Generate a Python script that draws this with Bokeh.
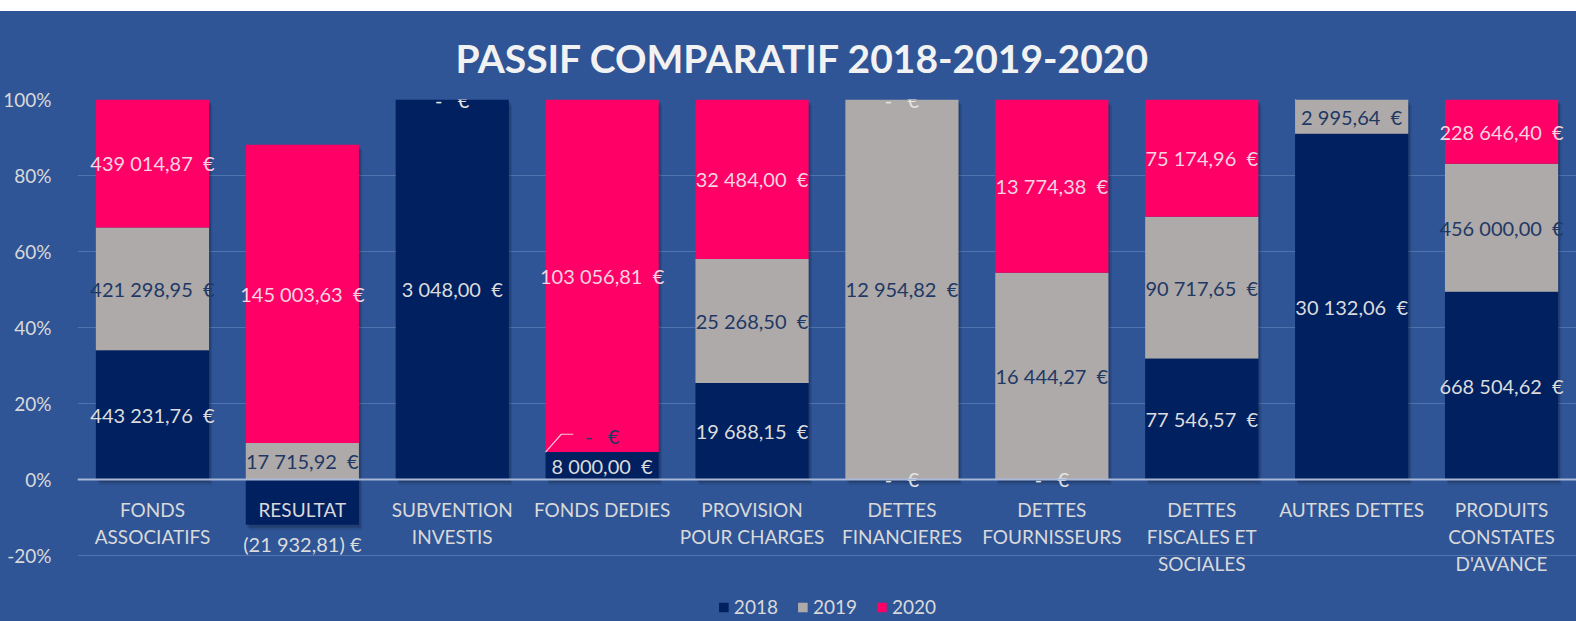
from bokeh.plotting import figure
from bokeh.layouts import column
from bokeh.models import (ColumnDataSource, Range1d, FixedTicker, NumeralTickFormatter,
                          Legend, LegendItem, Span, Spacer)
from bokeh.core.properties import value
from bokeh.embed import file_html
from bokeh.resources import INLINE

# ---------------- data ----------------
categories = ["FONDS ASSOCIATIFS", "RESULTAT", "SUBVENTION INVESTIS", "FONDS DEDIES",
              "PROVISION POUR CHARGES", "DETTES FINANCIERES", "DETTES FOURNISSEURS",
              "DETTES FISCALES ET SOCIALES", "AUTRES DETTES", "PRODUITS CONSTATES D'AVANCE"]
category_lines = [["FONDS", "ASSOCIATIFS"], ["RESULTAT"], ["SUBVENTION", "INVESTIS"],
                  ["FONDS DEDIES"], ["PROVISION", "POUR CHARGES"], ["DETTES", "FINANCIERES"],
                  ["DETTES", "FOURNISSEURS"], ["DETTES", "FISCALES ET", "SOCIALES"],
                  ["AUTRES DETTES"], ["PRODUITS", "CONSTATES", "D'AVANCE"]]
years = ["2018", "2019", "2020"]
v2018 = [443231.76, -21932.81, 3048.00, 8000.00, 19688.15, 0.0, 0.0, 77546.57, 30132.06, 668504.62]
v2019 = [421298.95, 17715.92, 0.0, 0.0, 25268.50, 12954.82, 16444.27, 90717.65, 2995.64, 456000.00]
v2020 = [439014.87, 145003.63, 0.0, 103056.81, 32484.00, 0.0, 13774.38, 75174.96, 0.0, 228646.40]
y_ticks = [-0.2, 0.0, 0.2, 0.4, 0.6, 0.8, 1.0]
title_text = "PASSIF COMPARATIF 2018-2019-2020"

# ---------------- style ----------------
BG = "#2F5597"
FONT = "Lato"
bar_colors = ["#002060", "#AEAAAA", "#FF0066"]
label_colors = ["#DCDCDC", "#1F3864", "#F7D4E1"]
zero_label_colors = ["#E4E4E4", "#1F3864", "#E4E4E4"]
AXIS_TEXT = "#D9D9D9"
BAR_W = 0.755
NB = "\u00a0"


def fmt(v):
    if v == 0:
        return "-" + NB * 3 + "€"
    s = f"{abs(v):,.2f}".replace(",", " ").replace(".", ",")
    return f"({s}){NB}€" if v < 0 else f"{s}{NB}{NB}€"


series = [v2018, v2019, v2020]
n = len(categories)
xs = [i + 0.5 for i in range(n)]
totals = [sum(abs(s[i]) for s in series) for i in range(n)]

p = figure(width=1576, height=610, x_range=Range1d(0, n), y_range=Range1d(-0.3737, 1.0),
           output_backend="svg", toolbar_location=None,
           background_fill_color=BG, border_fill_color=BG, outline_line_color=None,
           min_border_left=77, min_border_right=0, min_border_top=88, min_border_bottom=0)
p.styles = {"background-color": BG}

p.title.text = title_text
p.title.align = "left"
p.title.offset = 378
p.title.text_font = FONT
p.title.text_font_size = "39px"
p.title.text_font_style = "bold"
p.title.text_color = "#F2F2F2"
p.title.standoff = 38

p.xaxis.visible = False
p.xgrid.visible = False
p.yaxis.ticker = FixedTicker(ticks=y_ticks)
p.yaxis.formatter = NumeralTickFormatter(format="0%")
p.yaxis.axis_line_color = None
p.yaxis.major_tick_line_color = None
p.yaxis.minor_tick_line_color = None
p.yaxis.major_label_text_color = AXIS_TEXT
p.yaxis.major_label_text_font = FONT
p.yaxis.major_label_text_font_size = "19px"
p.yaxis.major_label_standoff = 20
p.ygrid.ticker = FixedTicker(ticks=y_ticks)
p.ygrid.grid_line_color = "#5072AD"
p.ygrid.grid_line_width = 1

# stacking (100 % of the sum of absolute values)
pos_cum = [0.0] * n
neg_cum = [0.0] * n
stacks = []
for vals in series:
    bottoms, tops = [], []
    for i in range(n):
        pct = vals[i] / totals[i]
        if pct >= 0:
            b, t = pos_cum[i], pos_cum[i] + pct
            pos_cum[i] = t
        else:
            b, t = neg_cum[i] + pct, neg_cum[i]
            neg_cum[i] = b
        bottoms.append(b)
        tops.append(t)
    stacks.append((bottoms, tops))

# drop shadow
sh_bottom = [min(s[0][i] for s in stacks) for i in range(n)]
sh_top = [max(s[1][i] for s in stacks) for i in range(n)]
for dx, dy, a in [(0.022, 0.014, 0.10), (0.012, 0.008, 0.16)]:
    p.vbar(x=[x + dx for x in xs], bottom=[b - dy for b in sh_bottom],
           top=[t - dy for t in sh_top], width=BAR_W, fill_color="black",
           fill_alpha=a, line_color=None)

renderers = []
for k, yr in enumerate(years):
    src = ColumnDataSource(dict(x=xs, bottom=stacks[k][0], top=stacks[k][1]))
    r = p.vbar(x="x", bottom="bottom", top="top", width=BAR_W, source=src,
               fill_color=bar_colors[k], line_color=None)
    renderers.append(r)

p.add_layout(Span(location=0, dimension="width", line_color="#A8B8D6", line_width=2))

# data labels
lx, ly, lt, lc, lyo = [], [], [], [], []
leader_xs, leader_ys = [], []
for k in range(len(years)):
    vals = series[k]
    bottoms, tops = stacks[k]
    for i in range(n):
        v = vals[i]
        if v > 0:
            y, yo, c = (bottoms[i] + tops[i]) / 2, 0, label_colors[k]
        elif v < 0:
            y, yo, c = bottoms[i], 19, label_colors[0]
        else:
            y, yo, c = bottoms[i], 0, zero_label_colors[k]
            if 0.0 < y < 1.0:
                # label inside a bar: moved up with a leader line
                yo = -16
                x0 = xs[i] - BAR_W / 2
                leader_xs.append([x0, x0 + 0.105, x0 + 0.185])
                leader_ys.append([y, y + 0.047, y + 0.047])
        lx.append(xs[i]); ly.append(y); lt.append(fmt(v)); lc.append(c); lyo.append(yo)

if leader_xs:
    p.multi_line(xs=leader_xs, ys=leader_ys, line_color="#F6C6D8", line_width=1.2)

p.text(x="x", y="y", text="text", text_color="color", y_offset="yo",
       source=ColumnDataSource(dict(x=lx, y=ly, text=lt, color=lc, yo=lyo)),
       text_font=value(FONT), text_font_size="20px", text_align="center",
       text_baseline="middle")

# category labels
cx, cy, ct, cyo = [], [], [], []
for i, lines in enumerate(category_lines):
    for j, line in enumerate(lines):
        cx.append(xs[i]); cy.append(0.0); ct.append(line); cyo.append(30 + 27 * j)
p.text(x="x", y="y", text="text", y_offset="yo",
       source=ColumnDataSource(dict(x=cx, y=cy, text=ct, yo=cyo)),
       text_font=value(FONT), text_font_size="19px", text_color=AXIS_TEXT,
       text_align="center", text_baseline="middle")

legend = Legend(items=[LegendItem(label=yr, renderers=[renderers[k]]) for k, yr in enumerate(years)],
                orientation="horizontal", location="bottom_center",
                background_fill_alpha=0, border_line_alpha=0,
                label_text_color=AXIS_TEXT, label_text_font=FONT, label_text_font_size="19px",
                glyph_width=12, glyph_height=12, spacing=18, label_standoff=5,
                padding=0, margin=3)
p.add_layout(legend)

layout = column(Spacer(width=1576, height=11), p)
open("out.html", "w").write(file_html(layout, INLINE))
